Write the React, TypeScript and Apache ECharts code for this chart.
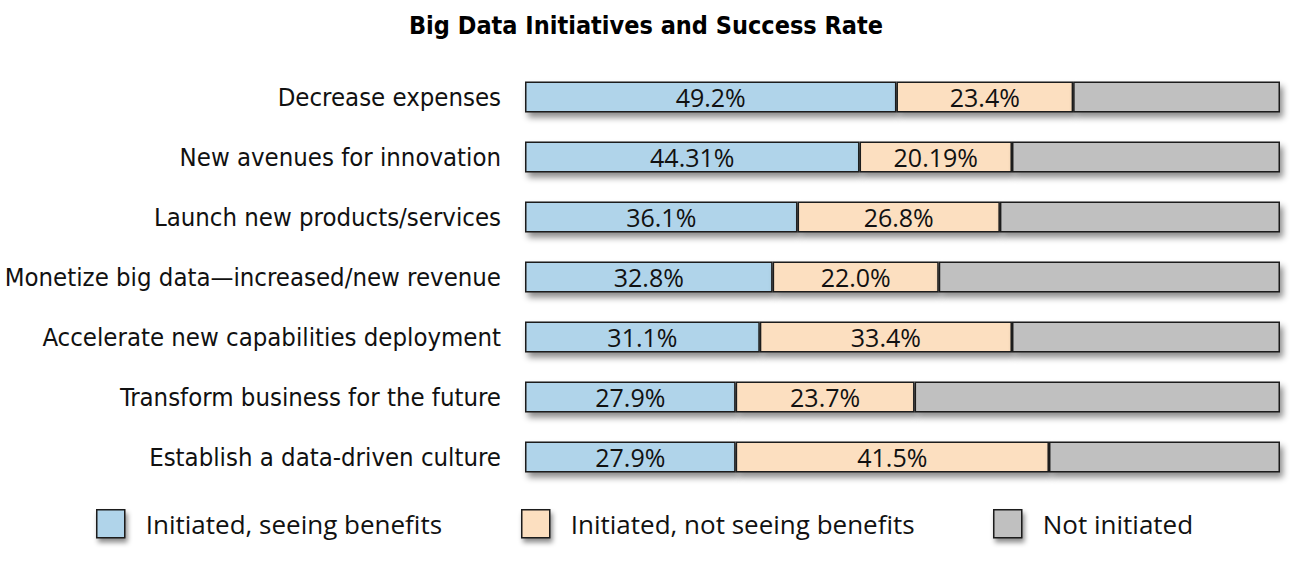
import React, { useEffect, useRef } from "react";
import * as echarts from "echarts";

const categories = [
  "Decrease expenses",
  "New avenues for innovation",
  "Launch new products/services",
  "Monetize big data\u2014increased/new revenue",
  "Accelerate new capabilities deployment",
  "Transform business for the future",
  "Establish a data-driven culture",
];
const seeingBenefits = [49.2, 44.31, 36.1, 32.8, 31.1, 27.9, 27.9];
const notSeeingBenefits = [23.4, 20.19, 26.8, 22.0, 33.4, 23.7, 41.5];
const notInitiated = [27.4, 35.5, 37.1, 45.2, 35.5, 48.4, 30.6];
const seriesNames = [
  "Initiated, seeing benefits",
  "Initiated, not seeing benefits",
  "Not initiated",
];
const colors = ["#B0D4EA", "#FCDFC0", "#C0C0C0"];

const fmt = (v: number) => {
  if (v === 44.31 || v === 20.19) return v.toFixed(2) + "%";
  return v.toFixed(1) + "%";
};

export default function App() {
  const ref = useRef<HTMLDivElement>(null);
  useEffect(() => {
    const chart = echarts.init(ref.current!, null, { renderer: "svg" });
    const labelFont = "DejaVu Sans Condensed";
    const bodyFont = "Open Sans";
    const mkSeries = (i: number, data: number[], showLabel: boolean) => ({
      name: seriesNames[i],
      type: "bar",
      stack: "total",
      barWidth: 31,
      data,
      itemStyle: {
        color: colors[i],
        borderColor: "#1a1a1a",
        borderWidth: 1.5,
        shadowColor: "rgba(0,0,0,0.45)",
        shadowBlur: 6,
        shadowOffsetX: 3,
        shadowOffsetY: 5,
      },
      label: {
        show: showLabel,
        position: "inside",
        formatter: (p: any) => fmt(p.value),
        color: "#111",
        fontSize: 25,
        fontFamily: bodyFont,
      },
      emphasis: { disabled: true },
    });
    const legendCommon = {
      orient: "horizontal",
      top: 509,
      padding: 0,
      itemWidth: 28,
      itemHeight: 28,
      icon: "rect",
      selectedMode: false,
      itemStyle: {
        borderColor: "#1a1a1a",
        borderWidth: 1.5,
        shadowColor: "rgba(0,0,0,0.45)",
        shadowBlur: 5,
        shadowOffsetX: 2,
        shadowOffsetY: 4,
      },
      textStyle: {
        fontSize: 26,
        fontFamily: bodyFont,
        color: "#111",
        padding: [8, 0, 0, 16],
      },
    };
    chart.setOption({
      animation: false,
      backgroundColor: "#fff",
      title: {
        text: "Big Data Initiatives and Success Rate",
        left: 641,
        textAlign: "center",
        top: 8,
        textStyle: {
          fontFamily: labelFont,
          fontWeight: "bold",
          fontSize: 25,
          color: "#000",
        },
      },
      legend: [
        { ...legendCommon, left: 96, data: [seriesNames[0]] },
        { ...legendCommon, left: 521, data: [seriesNames[1]] },
        { ...legendCommon, left: 993, data: [seriesNames[2]] },
      ],
      grid: {
        left: 525,
        right: 25,
        top: 67,
        height: 420,
        outerBoundsMode: "none",
        containLabel: false,
      },
      xAxis: {
        type: "value",
        min: 0,
        max: 100,
        show: false,
      },
      yAxis: {
        type: "category",
        data: categories,
        inverse: true,
        axisLine: { show: false },
        axisTick: { show: false },
        axisLabel: {
          margin: 24,
          fontSize: 25.5,
          fontFamily: labelFont,
          color: "#111",
        },
      },
      series: [
        mkSeries(0, seeingBenefits, true),
        mkSeries(1, notSeeingBenefits, true),
        mkSeries(2, notInitiated, false),
      ],
    });
    return () => chart.dispose();
  }, []);
  return (
    <div
      ref={ref}
      style={{ position: "fixed", left: 0, top: 0, width: 1305, height: 565 }}
    />
  );
}
